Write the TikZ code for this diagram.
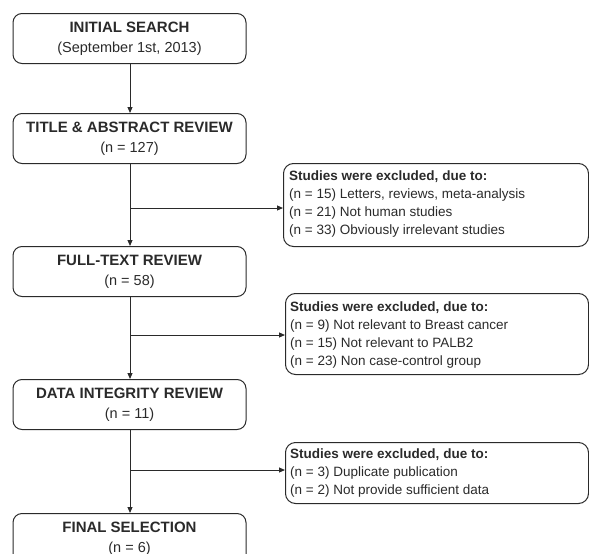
\documentclass[tikz,border=0pt]{standalone}
\usepackage{fontspec}
\setmainfont{Liberation Sans}
\usetikzlibrary{arrows.meta,calc}
\definecolor{ink}{HTML}{2A2A2A}
\begin{document}
\begin{tikzpicture}[x=1pt,y=-1pt,
  mainbox/.style={draw=ink,line width=1pt,rounded corners=9pt,minimum width=233pt,minimum height=50pt,inner sep=0pt,align=center,text=ink,font=\fontsize{14.5}{20}\selectfont},
  ttl/.style={font=\fontsize{15}{20}\selectfont\bfseries},
  sidebox/.style={draw=ink,line width=1pt,rounded corners=10pt,inner sep=0pt,anchor=north west},
  sidetext/.style={anchor=west,align=left,text=ink,font=\fontsize{13.5}{18}\selectfont,inner sep=0pt},
  flow/.style={draw=ink,line width=1pt,-{Triangle[length=6pt,width=5pt]}}]
\useasboundingbox (0,0) rectangle (589,554);
\clip (0,0) rectangle (589,554);
\node[mainbox] (s1) at (129.5,38.5) {{\fontsize{15}{20}\selectfont\bfseries INITIAL SEARCH}\\(September 1st, 2013)};
\node[mainbox] (s2) at (129.5,138.5) {{\fontsize{15}{20}\selectfont\bfseries TITLE \& ABSTRACT REVIEW}\\(n = 127)};
\node[mainbox] (s3) at (129.5,271.5) {{\fontsize{15}{20}\selectfont\bfseries FULL-TEXT REVIEW}\\(n = 58)};
\node[mainbox] (s4) at (129.5,404.5) {{\fontsize{15}{20}\selectfont\bfseries DATA INTEGRITY REVIEW}\\(n = 11)};
\node[mainbox] (s5) at (129.5,538.5) {{\fontsize{15}{20}\selectfont\bfseries FINAL SELECTION}\\(n = 6)};
\node[sidebox,minimum width=305pt,minimum height=83pt] (e1) at (283,163) {};
\node[sidebox,minimum width=303pt,minimum height=81pt] (e2) at (285,293) {};
\node[sidebox,minimum width=303pt,minimum height=61pt] (e3) at (285,442) {};
\node[sidetext] (t1) at (289,204) {\textbf{Studies were excluded, due to:}\\(n = 15) Letters, reviews, meta-analysis\\(n = 21) Not human studies\\(n = 33) Obviously irrelevant studies};
\node[sidetext] (t2) at (290,335) {\textbf{Studies were excluded, due to:}\\(n = 9) Not relevant to Breast cancer\\(n = 15) Not relevant to PALB2\\(n = 23) Non case-control group};
\node[sidetext] (t3) at (290,473) {\textbf{Studies were excluded, due to:}\\(n = 3) Duplicate publication\\(n = 2) Not provide sufficient data};
\coordinate (b1) at (130,208);
\coordinate (b2) at (130,335);
\coordinate (b3) at (130,470);
\draw[flow] (s1.south -| b1) -- (s2.north -| b1);
\draw[flow] (s2.south -| b1) -- (s3.north -| b1);
\draw[flow] (s3.south -| b1) -- (s4.north -| b1);
\draw[flow] (s4.south -| b1) -- (s5.north -| b1);
\draw[flow] (b1) -- (b1 -| e1.west);
\draw[flow] (b2) -- (b2 -| e2.west);
\draw[flow] (b3) -- (b3 -| e3.west);
\end{tikzpicture}
\end{document}
